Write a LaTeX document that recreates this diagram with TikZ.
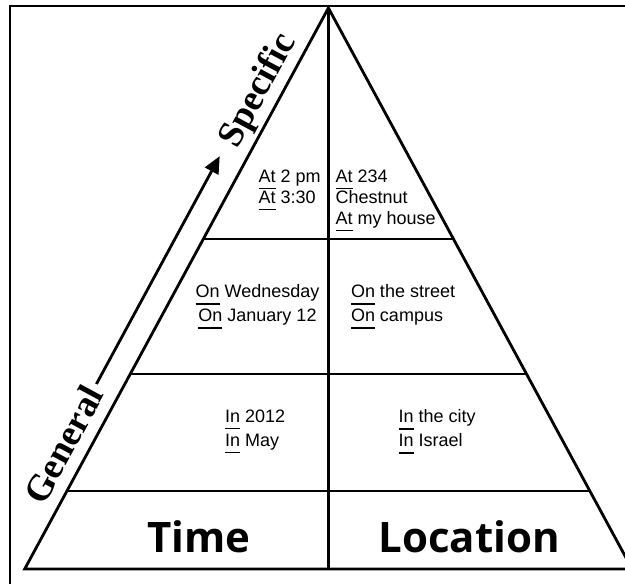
\documentclass[tikz,border=0pt]{standalone}
\usepackage{fontspec}
\setmainfont{Liberation Sans}
\newfontfamily\dirfont{Liberation Serif}
\newfontfamily\headfont{Open Sans}
\usetikzlibrary{arrows.meta,calc}
\newcommand{\prep}[1]{\setbox0\hbox{#1}\rlap{\rule[-7pt]{\wd0}{1.7pt}}\box0\relax}
\tikzset{edge/.style={line width=2.8pt},cell/.style={inner sep=0pt,font=\fontsize{18}{24}\selectfont},tight/.style={cell,font=\fontsize{18}{21}\selectfont},head/.style={inner sep=0pt,anchor=base,font=\headfont\bfseries\fontsize{42}{48}\selectfont},dir/.style={inner sep=0pt,anchor=base,rotate=61.57,font=\dirfont\bfseries\fontsize{37}{40}\selectfont},rise/.style={-{Triangle[length=17pt,width=15pt]},line width=2.8pt}}

\begin{document}
\begin{tikzpicture}[x=1pt,y=-1pt]
\useasboundingbox (0,0) rectangle (625,584);
\draw[line width=1.2pt] (10,584) -- (10,6) -- (625,6);
% pyramid
\coordinate (apex) at (328.4,8);
\coordinate (bl) at (24.7,569);
\coordinate (br) at (632.1,569);
\coordinate (bm) at (328.4,569);
\draw[edge] (bl) -- (apex) -- (br) -- cycle;
\draw[edge] (apex) -- (bm);
\foreach \f in {0.4118,0.6524,0.8610}
  \draw[edge] ($(apex)!\f!(bl)$) -- ($(apex)!\f!(br)$);
% cells
\node[tight,anchor=north west,align=left] (attime) at (258.5,169.7) {\prep{At} 2 pm\\\prep{At} 3:30};
\node[tight,anchor=north west,align=left] (atloc) at (335.5,169.7) {\prep{At} 234\\Chestnut\\\prep{At} my house};
\node[cell,anchor=north,align=center] (ontime) at (257.5,284.3) {\prep{On} Wednesday\\\prep{On} January 12};
\node[cell,anchor=north west,align=left] (onloc) at (350.8,284.3) {\prep{On} the street\\\prep{On} campus};
\node[cell,anchor=north west,align=left] (intime) at (225,409.7) {\prep{In} 2012\\\prep{In} May};
\node[cell,anchor=north west,align=left] (inloc) at (398.5,409.7) {\prep{In} the city\\\prep{In} Israel};
\node[head] (time) at (199,552) {Time};
\node[head] (loc) at (469,552) {Location};
% general to specific
\coordinate (lo) at (96.4,384.0);
\coordinate (hi) at (219.7,156.2);
\draw[rise] (lo) -- (hi);
\node[dir] (gen) at (74.5,450.5) {General};
\node[dir] (spec) at (266.8,95.2) {Specific};
\end{tikzpicture}
\end{document}
